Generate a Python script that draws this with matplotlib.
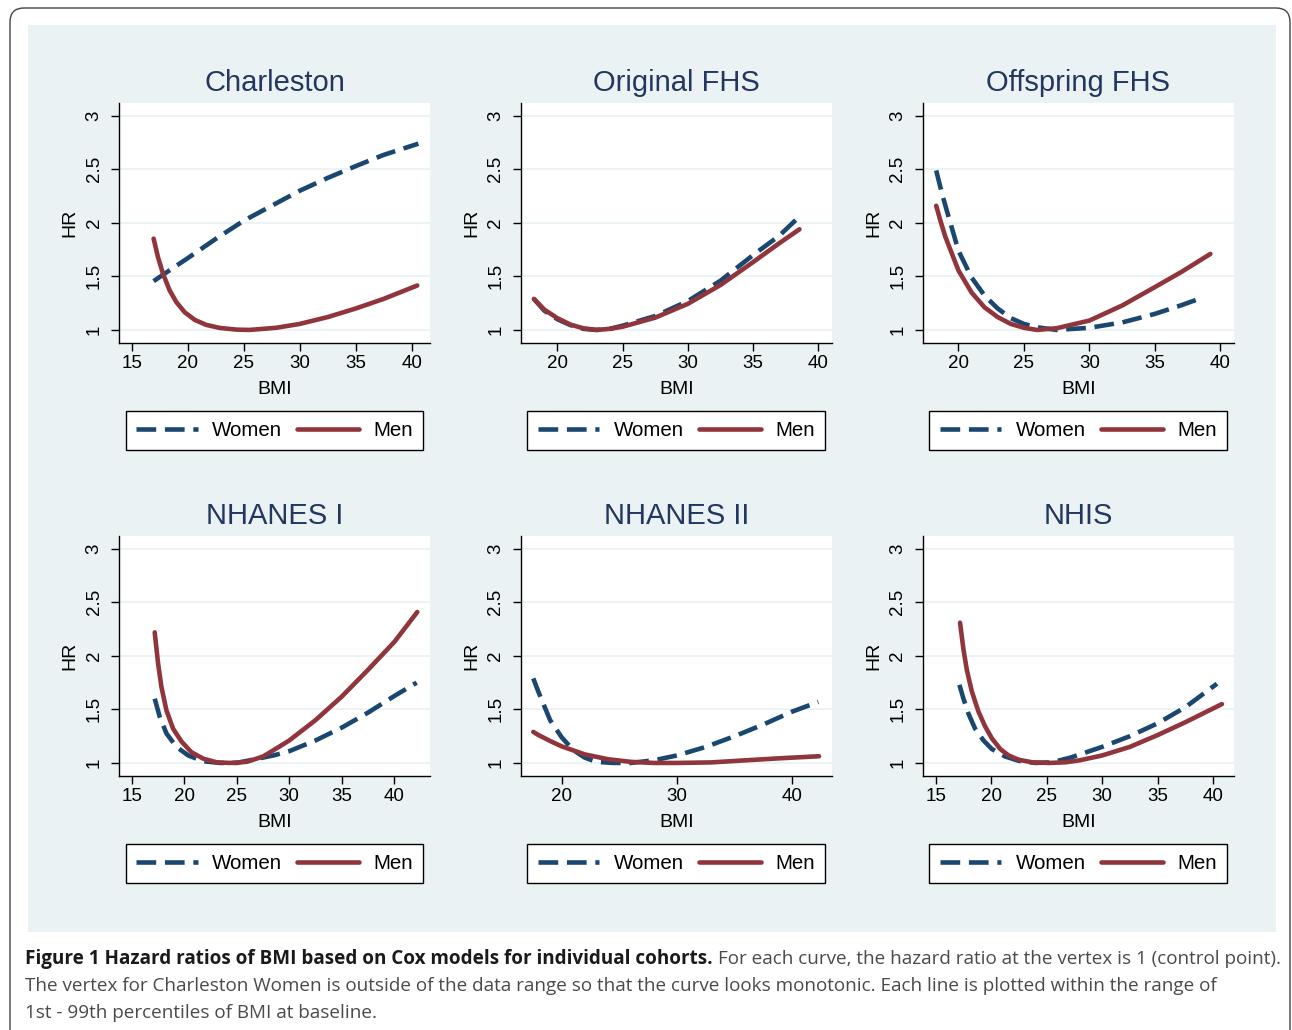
import matplotlib
matplotlib.use("Agg")
import matplotlib.pyplot as plt
from matplotlib.patches import Rectangle, FancyBboxPatch
from matplotlib.transforms import IdentityTransform

plt.rcParams['font.family'] = ['Liberation Sans', 'DejaVu Sans']

# ---------------- data ----------------
cohorts = ["Charleston", "Original FHS", "Offspring FHS", "NHANES I", "NHANES II", "NHIS"]
series_labels = ["Women", "Men"]
ytick_vals = [1, 1.5, 2, 2.5, 3]
ytick_labels = ["1", "1.5", "2", "2.5", "3"]

charleston_xticks = [15, 20, 25, 30, 35, 40]
original_xticks = [20, 25, 30, 35, 40]
offspring_xticks = [20, 25, 30, 35, 40]
nhanes1_xticks = [15, 20, 25, 30, 35, 40]
nhanes2_xticks = [20, 30, 40]
nhis_xticks = [15, 20, 25, 30, 35, 40]

charleston_women_bmi = [16.96, 18.0, 20.0, 22.5, 25.0, 27.5, 30.0, 32.5, 35.0, 37.5, 40.6]
charleston_women_hr = [1.456, 1.53, 1.67, 1.85, 2.02, 2.16, 2.30, 2.42, 2.53, 2.635, 2.74]
charleston_men_bmi = [16.96, 17.35, 17.8, 18.39, 18.99, 19.73, 20.63, 21.67, 22.86, 24.35, 25.5,
                      27.9, 30.0, 32.5, 35.0, 37.5, 40.5]
charleston_men_hr = [1.853, 1.68, 1.525, 1.37, 1.26, 1.166, 1.094, 1.047, 1.019, 1.003, 1.0,
                     1.02, 1.056, 1.12, 1.20, 1.29, 1.415]

original_women_bmi = [18.2, 19.0, 20.0, 21.0, 22.0, 23.0, 24.0, 25.0, 27.5, 30.0, 32.5, 35.0, 37.0, 38.55]
original_women_hr = [1.29, 1.18, 1.10, 1.045, 1.01, 1.0, 1.01, 1.04, 1.13, 1.27, 1.46, 1.70, 1.88, 2.06]
original_men_bmi = [18.2, 19.0, 20.0, 21.0, 22.0, 23.0, 24.0, 25.0, 27.5, 30.0, 32.5, 35.0, 37.0, 38.55]
original_men_hr = [1.29, 1.19, 1.11, 1.05, 1.015, 1.0, 1.01, 1.03, 1.115, 1.244, 1.42, 1.634, 1.81, 1.94]

offspring_women_bmi = [18.3, 18.75, 19.24, 20.0, 21.0, 22.0, 23.0, 24.0, 25.0, 26.0, 27.5, 30.0, 32.5, 35.0, 37.0, 38.73]
offspring_women_hr = [2.49, 2.27, 2.06, 1.74, 1.49, 1.32, 1.20, 1.11, 1.056, 1.025, 1.0, 1.02, 1.07, 1.15, 1.23, 1.306]
offspring_men_bmi = [18.3, 18.6, 19.0, 20.0, 21.0, 22.0, 23.0, 24.0, 25.0, 26.0, 27.5, 30.0, 32.5, 35.0, 37.0, 39.24]
offspring_men_hr = [2.16, 2.03, 1.87, 1.556, 1.35, 1.21, 1.12, 1.056, 1.02, 1.0, 1.016, 1.0875, 1.228, 1.40, 1.54, 1.71]

nhanes1_women_bmi = [17.19, 17.67, 18.31, 19.26, 20.38, 21.81, 23.4, 24.99, 28.5, 30.0, 32.5, 35.0, 37.5, 40.0, 42.13]
nhanes1_women_hr = [1.60, 1.43, 1.275, 1.15, 1.07, 1.016, 1.0, 1.0, 1.07, 1.11, 1.21, 1.33, 1.47, 1.625, 1.75]
nhanes1_men_bmi = [17.19, 17.51, 17.83, 18.31, 18.94, 19.74, 20.69, 21.81, 23.08, 24.35, 25.94, 27.5,
                   29.1, 30.0, 32.5, 35.0, 37.5, 40.0, 42.19]
nhanes1_men_hr = [2.22, 1.93, 1.71, 1.49, 1.32, 1.20, 1.10, 1.04, 1.006, 1.0, 1.01, 1.06,
                  1.155, 1.21, 1.40, 1.62, 1.87, 2.13, 2.41]

nhanes2_women_bmi = [17.54, 18.0, 19.0, 20.0, 21.0, 22.0, 23.0, 24.5, 26.0, 28.0, 30.0, 32.5, 35.0, 37.5, 40.0, 42.25]
nhanes2_women_hr = [1.79, 1.66, 1.40, 1.24, 1.12, 1.05, 1.01, 1.0, 1.0, 1.025, 1.07, 1.15, 1.25, 1.36, 1.48, 1.57]
nhanes2_men_bmi = [17.54, 18.0, 19.0, 20.0, 22.0, 24.0, 26.0, 28.0, 30.0, 33.0, 36.0, 39.0, 42.31]
nhanes2_men_hr = [1.29, 1.26, 1.205, 1.155, 1.08, 1.035, 1.01, 1.0, 1.0, 1.005, 1.025, 1.044, 1.0625]

nhis_women_bmi = [17.11, 17.48, 17.93, 18.53, 19.29, 20.04, 21.25, 22.46, 23.97, 25.48, 27.14,
                  30.0, 32.5, 35.0, 37.5, 40.36]
nhis_women_hr = [1.73, 1.60, 1.46, 1.32, 1.21, 1.13, 1.06, 1.02, 1.0, 1.006, 1.05,
                 1.15, 1.25, 1.37, 1.52, 1.74]
nhis_men_bmi = [17.17, 17.48, 17.78, 18.23, 18.83, 19.44, 20.04, 20.8, 21.55, 22.46, 23.67, 25.2,
                26.7, 28.0, 30.0, 32.5, 35.0, 37.5, 40.81]
nhis_men_hr = [2.31, 2.06, 1.87, 1.67, 1.48, 1.34, 1.23, 1.13, 1.07, 1.03, 1.006, 1.0,
               1.006, 1.025, 1.07, 1.15, 1.26, 1.38, 1.55]

caption_bold = "Figure 1 Hazard ratios of BMI based on Cox models for individual cohorts."
caption_rest1 = "For each curve, the hazard ratio at the vertex is 1 (control point)."
caption_line2 = ("The vertex for Charleston Women is outside of the data range so that the curve "
                 "looks monotonic. Each line is plotted within the range of")
caption_line3 = "1st - 99th percentiles of BMI at baseline."

# ---------------- layout / style ----------------
W, H = 1292, 1030
NAVY = "#1a476f"
MAROON = "#90353b"
BG = "#eaf2f3"
TITLE_C = "#233760"

fig = plt.figure(figsize=(W / 100, H / 100), dpi=100)
fig.patch.set_facecolor("white")

# outer rounded border and light panel (pixel coordinates)
border = FancyBboxPatch((10, -20), 1280, H - 8 + 20, boxstyle="round,pad=0,rounding_size=14",
                        transform=IdentityTransform(), facecolor="white", edgecolor="#444444",
                        linewidth=1.0, zorder=0)
fig.patches.append(border)
panel = Rectangle((28, H - 932), 1248, 907, transform=IdentityTransform(),
                  facecolor=BG, edgecolor="none", zorder=1)
fig.patches.append(panel)

panel_defs = [
    (cohorts[0], 119, 103, (13.87, 41.64), charleston_xticks,
     charleston_women_bmi, charleston_women_hr, charleston_men_bmi, charleston_men_hr),
    (cohorts[1], 520.7, 103, (17.19, 41.02), original_xticks,
     original_women_bmi, original_women_hr, original_men_bmi, original_men_hr),
    (cohorts[2], 922.7, 103, (17.27, 41.02), offspring_xticks,
     offspring_women_bmi, offspring_women_hr, offspring_men_bmi, offspring_men_hr),
    (cohorts[3], 119, 536, (13.79, 43.40), nhanes1_xticks,
     nhanes1_women_bmi, nhanes1_women_hr, nhanes1_men_bmi, nhanes1_men_hr),
    (cohorts[4], 520.7, 536, (16.45, 43.41), nhanes2_xticks,
     nhanes2_women_bmi, nhanes2_women_hr, nhanes2_men_bmi, nhanes2_men_hr),
    (cohorts[5], 922.7, 536, (13.80, 41.87), nhis_xticks,
     nhis_women_bmi, nhis_women_hr, nhis_men_bmi, nhis_men_hr),
]

AW, AH = 311, 240
LW = 3.3
for (name, left, top, xlim, xticks, wb, wh, mb, mh) in panel_defs:
    ax = fig.add_axes([left / W, 1 - (top + AH) / H, AW / W, AH / H])
    ax.set_zorder(3)
    ax.set_facecolor("white")
    ax.plot(wb, wh, color=NAVY, lw=LW, dashes=(4.3, 1.9), dash_capstyle="butt",
            dash_joinstyle="round", label=series_labels[0], zorder=3)
    ax.plot(mb, mh, color=MAROON, lw=LW, solid_capstyle="round", solid_joinstyle="round",
            label=series_labels[1], zorder=4)
    ax.set_xlim(*xlim)
    ax.set_ylim(0.878, 3.12)
    ax.set_xticks(xticks)
    ax.set_xticklabels([str(t) for t in xticks], fontsize=13.5)
    ax.set_yticks(ytick_vals)
    ax.set_yticklabels(ytick_labels, fontsize=13.5, rotation=90, va="center")
    ax.yaxis.grid(True, color=BG, lw=1.3)
    ax.set_axisbelow(True)
    for s in ("top", "right"):
        ax.spines[s].set_visible(False)
    for s in ("left", "bottom"):
        ax.spines[s].set_linewidth(1.0)
        ax.spines[s].set_color("black")
    ax.tick_params(direction="out", length=5.8, width=1.0, color="black")
    ax.tick_params(axis="x", pad=2.5)
    ax.tick_params(axis="y", pad=6)
    ax.set_xlabel("BMI", fontsize=14, labelpad=6.5)
    ax.set_ylabel("HR", fontsize=14, labelpad=5)
    ax.set_title(name, fontsize=21, color=TITLE_C, pad=8.5)
    leg = ax.legend(loc="center", bbox_to_anchor=(0.5, -0.3646), ncol=2, frameon=True,
                    fancybox=False, edgecolor="black", framealpha=1, fontsize=14.8,
                    handlelength=3.0, handletextpad=0.7, columnspacing=0.75,
                    borderpad=0.5, borderaxespad=0)
    leg.get_frame().set_linewidth(1.0)

# ---------------- caption ----------------
cap_font = ["Open Sans", "DejaVu Sans"]
fs0 = 10
tb = fig.text(25 / W, 1 - 964 / H, caption_bold, fontsize=fs0, fontweight="bold",
              family=cap_font, color="#1a1a1a", ha="left", va="baseline", zorder=5)
tr = fig.text(0, 1 - 964 / H, caption_rest1, fontsize=fs0, family=cap_font,
              color="#4a4a4a", ha="left", va="baseline", zorder=5)
fig.canvas.draw()
r = fig.canvas.get_renderer()
wb0 = tb.get_window_extent(r).width
wr0 = tr.get_window_extent(r).width
gap0 = 0.28 * fs0 * 100 / 72
scale = (1278 - 25) / (wb0 + wr0 + gap0)
fs = fs0 * scale
tb.set_fontsize(fs)
tr.set_fontsize(fs)
fig.canvas.draw()
wb1 = tb.get_window_extent(r).width
tr.set_x((25 + wb1 + gap0 * scale) / W)
fig.text(25 / W, 1 - 991 / H, caption_line2, fontsize=fs, family=cap_font,
         color="#4a4a4a", ha="left", va="baseline", zorder=5)
fig.text(25 / W, 1 - 1018 / H, caption_line3, fontsize=fs, family=cap_font,
         color="#4a4a4a", ha="left", va="baseline", zorder=5)

fig.savefig("out.png", dpi=100, facecolor="white")
